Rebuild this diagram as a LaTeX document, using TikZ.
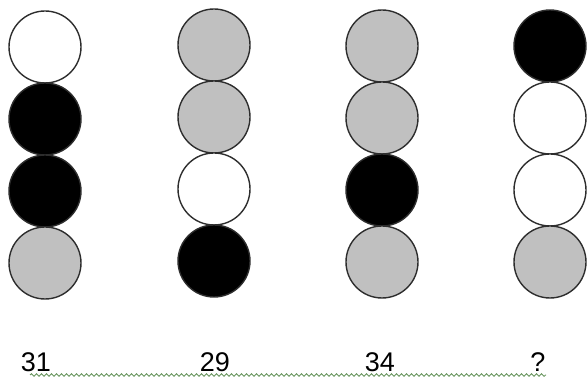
\documentclass[tikz,border=0pt]{standalone}
\usepackage{fontspec}
\setmainfont{Liberation Sans}
\usetikzlibrary{positioning, decorations.pathmorphing}
\definecolor{ballgray}{RGB}{192,192,192}
\definecolor{ballrim}{RGB}{45,45,45}
\definecolor{spellgreen}{RGB}{105,150,95}

\begin{document}
\begin{tikzpicture}[
    x=1pt, y=-1pt,
    % Styles
    ball/.style={
        circle, draw=ballrim, line width=1.4pt,
        minimum size=72pt, inner sep=0pt, outer sep=0pt
    },
    numlabel/.style={
        anchor=base, inner sep=0pt,
        font=\fontsize{27}{30}\selectfont
    },
    squiggle/.style={
        spellgreen, line width=0.9pt,
        decorate, decoration={snake, amplitude=1.3pt, segment length=5pt}
    }
]
\useasboundingbox (0,0) rectangle (587,379);

% Column 1
\node[ball, fill=white] (c1a) at (45,47) {};
\node[ball, fill=black, below=0pt of c1a] (c1b) {};
\node[ball, fill=black, below=0pt of c1b] (c1c) {};
\node[ball, fill=ballgray, below=0pt of c1c] (c1d) {};

% Column 2
\node[ball, fill=ballgray] (c2a) at (214,45) {};
\node[ball, fill=ballgray, below=0pt of c2a] (c2b) {};
\node[ball, fill=white, below=0pt of c2b] (c2c) {};
\node[ball, fill=black, below=0pt of c2c] (c2d) {};

% Column 3
\node[ball, fill=ballgray] (c3a) at (382,46) {};
\node[ball, fill=ballgray, below=0pt of c3a] (c3b) {};
\node[ball, fill=black, below=0pt of c3b] (c3c) {};
\node[ball, fill=ballgray, below=0pt of c3c] (c3d) {};

% Column 4
\node[ball, fill=black] (c4a) at (550,46) {};
\node[ball, fill=white, below=0pt of c4a] (c4b) {};
\node[ball, fill=white, below=0pt of c4b] (c4c) {};
\node[ball, fill=ballgray, below=0pt of c4c] (c4d) {};

% Spell-check underline
\coordinate (sqstart) at (30,375);
\coordinate (sqend) at (546,375);
\draw[squiggle] (sqstart) -- (sqend);

% Numbers
\node[numlabel] (n1) at (36,372) {31};
\node[numlabel] (n2) at (215,372) {29};
\node[numlabel] (n3) at (380,372) {34};
\node[numlabel] (n4) at (538,372) {?};

\end{tikzpicture}
\end{document}
